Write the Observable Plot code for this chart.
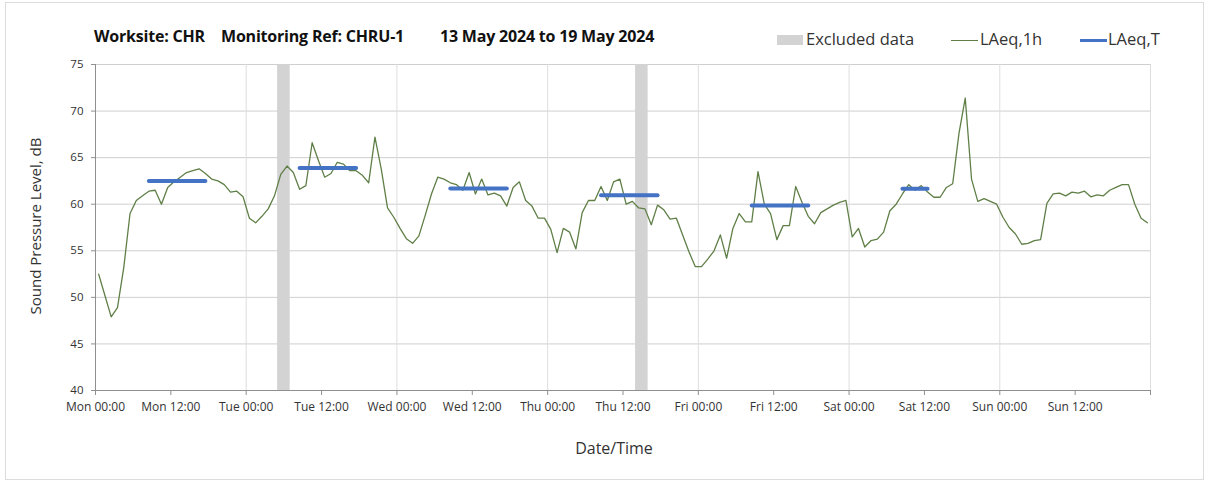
<!DOCTYPE html>
<html>
<head>
<meta charset="utf-8">
<script src="https://cdn.jsdelivr.net/npm/d3@7"></script>
<script src="https://cdn.jsdelivr.net/npm/@observablehq/plot@0.6"></script>
<style>
  html, body { margin: 0; padding: 0; background: #fff; }
  #wrap { position: relative; width: 1208px; height: 483px; overflow: hidden; font-family: "Open Sans", sans-serif; color: #222; }
  #frame { position: absolute; left: 5px; top: 2px; right: 4px; bottom: 3px; border: 1px solid #dcdcdc; pointer-events: none; }
  #chart { position: absolute; left: 0; top: 0; }
  .t { position: absolute; white-space: nowrap; }
  .title { font-weight: 700; font-size: 16px; top: 25px; color: #111; letter-spacing: -0.2px; }
  .leg { font-size: 16.5px; top: 27px; color: #333; }
  .sw { position: absolute; }
</style>
</head>
<body>
<div id="wrap">
  <div id="frame"></div>
  <div id="chart"></div>
</div>
<script>
// ---- Data ----
const startTime = "2024-05-13T00:00:00Z";
const endTime = "2024-05-20T00:00:00Z";
const titleParts = ["Worksite: CHR", "Monitoring Ref: CHRU-1", "13 May 2024 to 19 May 2024"];
const yTicks = [40, 45, 50, 55, 60, 65, 70, 75];

// Hourly LAeq,1h values (Mon 00:00 onwards, one per hour, plotted at hour midpoint)
const laeq1h = [
  52.5, 50.2, 47.9, 48.9, 53.2, 59.0, 60.4, 60.9, 61.4, 61.5, 60.0, 61.8,
  62.4, 62.9, 63.4, 63.6, 63.8, 63.3, 62.7, 62.5, 62.1, 61.3, 61.4, 60.8,
  58.5, 58.0, 58.7, 59.5, 60.9, 63.2, 64.1, 63.4, 61.6, 62.0, 66.6, 64.7,
  62.9, 63.3, 64.5, 64.3, 63.6, 63.6, 63.1, 62.3, 67.2, 63.8, 59.6, 58.6,
  57.4, 56.3, 55.8, 56.6, 58.8, 61.1, 62.9, 62.7, 62.3, 62.1, 61.5, 63.4,
  61.1, 62.7, 61.0, 61.2, 60.9, 59.8, 61.8, 62.4, 60.4, 59.8, 58.5, 58.5,
  57.3, 54.8, 57.4, 57.0, 55.2, 59.1, 60.4, 60.4, 61.9, 60.4, 62.4, 62.7,
  60.0, 60.3, 59.6, 59.5, 57.8, 59.9, 59.4, 58.4, 58.5, 56.7, 54.9, 53.3,
  53.3, 54.1, 55.0, 56.7, 54.2, 57.4, 59.0, 58.1, 58.1, 63.5, 60.0, 59.0,
  56.2, 57.7, 57.7, 61.9, 60.2, 58.7, 57.9, 59.1, 59.5, 59.9, 60.2, 60.4,
  56.5, 57.4, 55.4, 56.1, 56.25, 57.0, 59.3, 60.0, 61.1, 62.1, 61.5, 62.0,
  61.3, 60.75, 60.75, 61.8, 62.2, 67.6, 71.4, 62.7, 60.3, 60.6, 60.3, 60.0,
  58.6, 57.5, 56.8, 55.7, 55.8, 56.1, 56.2, 60.1, 61.1, 61.2, 60.9, 61.3,
  61.2, 61.4, 60.8, 61.0, 60.9, 61.5, 61.8, 62.1, 62.1, 60.0, 58.5, 58.0
];

// LAeq,T periods (drawn between first and last hourly midpoints of the period)
const periodStart = ["2024-05-13T08:30Z", "2024-05-14T08:30Z", "2024-05-15T08:30Z", "2024-05-16T08:30Z", "2024-05-17T08:30Z", "2024-05-18T08:30Z"];
const periodEnd   = ["2024-05-13T17:30Z", "2024-05-14T17:30Z", "2024-05-15T17:30Z", "2024-05-16T17:30Z", "2024-05-17T17:30Z", "2024-05-18T12:30Z"];
const periodValue = [62.5, 63.9, 61.7, 60.95, 59.85, 61.65];

// Excluded data periods
const exclStart = ["2024-05-14T05:00Z", "2024-05-16T14:00Z"];
const exclEnd   = ["2024-05-14T07:00Z", "2024-05-16T16:00Z"];

// ---- Build tables ----
const t0 = new Date(startTime);
const hourly = laeq1h.map((v, i) => ({ time: new Date(+t0 + (i + 0.5) * 3600e3), value: v }));
const periods = periodValue.map((v, i) => ({ start: new Date(periodStart[i]), end: new Date(periodEnd[i]), value: v }));
const excluded = exclStart.map((s, i) => ({ start: new Date(s), end: new Date(exclEnd[i]) }));

const domainX = [new Date(startTime), new Date(endTime)];
const ticks12 = d3.utcHour.every(12).range(domainX[0], d3.utcHour.offset(domainX[1], 1));
const dayLines = d3.utcDay.range(d3.utcDay.offset(domainX[0], 1), d3.utcDay.offset(domainX[1], 1));
const fmt = d => (+d === +domainX[1] ? "" : d3.utcFormat("%a %H:%M")(d));

const plot = Plot.plot({
  width: 1208,
  height: 483,
  marginLeft: 95,
  marginRight: 58,
  marginTop: 64,
  marginBottom: 93,
  style: { fontFamily: "Open Sans, sans-serif", fontSize: "12px", color: "#333", background: "transparent", overflow: "visible" },
  x: { type: "utc", domain: domainX, label: null },
  y: { domain: [40, 75], label: null },
  marks: [
    Plot.gridY(yTicks.slice(1), { stroke: "#cfcfcf", strokeOpacity: 1, strokeWidth: 1 }),
    Plot.gridX(dayLines, { stroke: "#dedede", strokeOpacity: 1, strokeWidth: 1 }),
    Plot.rect(excluded, { x1: "start", x2: "end", y1: 40, y2: 75, fill: "#d3d3d3" }),
    Plot.ruleX([domainX[0]], { stroke: "#8f8f8f", strokeWidth: 1 }),
    Plot.ruleY([40], { stroke: "#8f8f8f", strokeWidth: 1 }),
    Plot.axisX({ ticks: ticks12, tickFormat: fmt, tickSize: 5, tickPadding: 7, stroke: "#8f8f8f", fontSize: 12, fill: "#333" }),
    Plot.axisY({ ticks: yTicks, tickSize: 4, tickPadding: 8, stroke: "#8f8f8f", fontSize: 11.5, fill: "#333" }),
    Plot.lineY(hourly, { x: "time", y: "value", stroke: "#5f7f47", strokeWidth: 1.3, curve: "linear" }),
    Plot.link(periods, { x1: "start", x2: "end", y1: "value", y2: "value", stroke: "#4472c4", strokeWidth: 4, strokeLinecap: "round" })
  ]
});
document.getElementById("chart").appendChild(plot);

// ---- Overlay texts: title, legend, axis labels ----
const wrap = document.getElementById("wrap");
function addText(txt, cls, left, top, extra) {
  const d = document.createElement("div");
  d.className = "t " + cls;
  d.textContent = txt;
  d.style.left = left + "px";
  if (top != null) d.style.top = top + "px";
  if (extra) Object.assign(d.style, extra);
  wrap.appendChild(d);
  return d;
}
const titleX = [94, 221, 440];
titleParts.forEach((p, i) => addText(p, "title", titleX[i]));

// Legend
const legendItems = [
  { label: "Excluded data", kind: "rect", color: "#d3d3d3", sx: 777, tx: 806 },
  { label: "LAeq,1h", kind: "line", color: "#5f7f47", w: 1.3, sx: 951, tx: 980 },
  { label: "LAeq,T", kind: "line", color: "#4472c4", w: 3.5, sx: 1080, tx: 1108 }
];
legendItems.forEach(it => {
  const s = document.createElement("div");
  s.className = "sw";
  s.style.left = it.sx + "px";
  s.style.background = it.color;
  if (it.kind === "rect") { s.style.top = "35px"; s.style.width = "26px"; s.style.height = "10px"; }
  else { s.style.top = (40.5 - it.w / 2) + "px"; s.style.width = "27px"; s.style.height = it.w + "px"; }
  wrap.appendChild(s);
  addText(it.label, "leg", it.tx);
});

// Axis titles
addText("Date/Time", "", 614, 437, { fontSize: "16px", transform: "translateX(-50%)", color: "#333" });
addText("Sound Pressure Level, dB", "", 35, 226, { fontSize: "15px", transform: "translate(-50%,-50%) rotate(-90deg)", color: "#333" });
</script>
</body>
</html>
